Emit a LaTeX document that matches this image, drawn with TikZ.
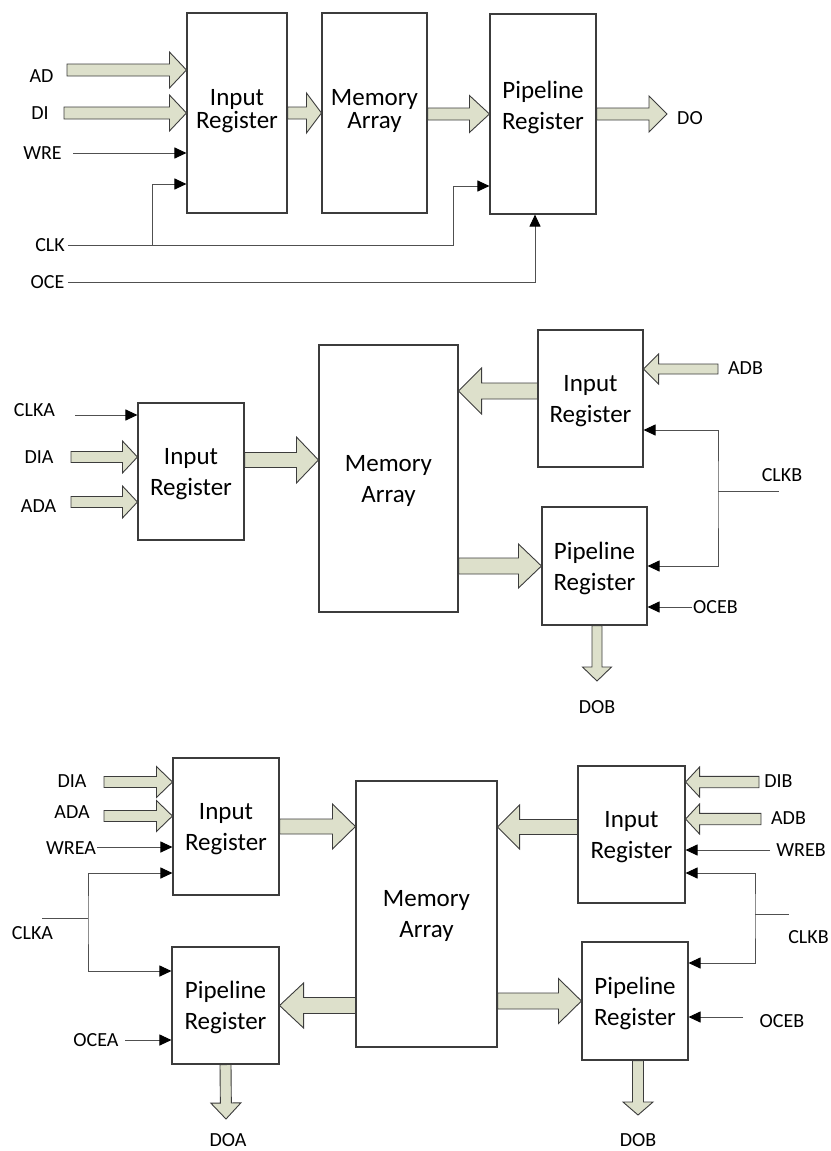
\documentclass[tikz,border=0pt]{standalone}
\usepackage{fontspec}
\setmainfont{Carlito}
\usepackage{tikz}
\usetikzlibrary{calc,arrows.meta}
\definecolor{busfill}{RGB}{221,224,203}
\definecolor{edge}{RGB}{60,60,60}
\definecolor{wirecol}{RGB}{80,80,80}
\newcommand*{\blockfont}{\fontsize{25}{31}\selectfont}
\newcommand*{\lblfont}{\fontsize{20}{21}\selectfont}
\newcommand*{\bus}[5]{%
  % #1: half width of the body, #2: half width of the head
  % #3: length of the head, #4: from, #5: to
  \path (#4) coordinate (bs) (#5) coordinate (be);
  \path ($(be)!#3!(bs)$) coordinate (bh);
  \draw[busline] ($(bs)!#1!90:(be)$) -- ($(bh)!#1!90:(be)$) -- ($(bh)!#2!90:(be)$) -- (be)
    -- ($(bh)!#2!-90:(be)$) -- ($(bh)!#1!-90:(be)$) -- ($(bs)!#1!-90:(be)$) -- cycle;
}
\tikzset{
  block/.style={draw=edge, line width=1.1pt, align=center, font=\blockfont, inner sep=0pt, text depth=0pt},
  busline/.style={draw=edge, fill=busfill, line width=0.9pt, line join=miter},
  wire/.style={draw=wirecol, line width=1pt},
  sig/.style={wire, ->},
  lbl/.style={font=\lblfont, inner sep=0pt},
  >={Triangle[length=12pt,width=11pt,color=black]}
}
\begin{document}
\begin{tikzpicture}[x=1pt, y=-1pt]
\useasboundingbox (0,0) rectangle (830,1151);
% single port
\node[block, minimum width=100, minimum height=200, text depth=8pt] (ir1) at (237,113) {Input\\[-8pt]Register};
\node[block, minimum width=105, minimum height=200, text depth=8pt] (ma1) at (374.5,113) {Memory\\[-8pt]Array};
\node[block, minimum width=106, minimum height=200, text depth=18pt] (pr1) at (543,114) {Pipeline\\Register};
\coordinate (ad) at (67,70);
\coordinate (di) at (64,113);
\coordinate (wre) at (73,153);
\coordinate (clk) at (68,245);
\coordinate (clkt1) at (152,184);
\coordinate (clkt2) at (453,186);
\coordinate (oce) at (68,282);
\coordinate (do) at (667,114);
\node[lbl] at (41.5,76) {AD};
\node[lbl] at (40,113) {DI};
\node[lbl] at (42.5,153) {WRE};
\node[lbl] at (50,245) {CLK};
\node[lbl] at (47.5,282) {OCE};
\node[lbl] at (690,118) {DO};
\bus{6pt}{18pt}{17pt}{ad}{ad -| ir1.west}
\bus{6pt}{18pt}{17pt}{di}{di -| ir1.west}
\bus{6pt}{20pt}{15pt}{ir1.east}{ma1.west}
\bus{6pt}{18.5pt}{20pt}{ma1.east |- pr1.west}{pr1.west}
\bus{6pt}{18pt}{18pt}{pr1.east}{do}
\draw[sig] (wre) -- (wre -| ir1.west);
\draw[sig] (clk) -| (clkt2) -- (clkt2 -| pr1.west);
\draw[sig] (clkt1 |- clk) |- (clkt1 -| ir1.west);
\draw[sig] (oce) -| ([xshift=-8pt]pr1.south);
% port A writes, port B reads
\node[block, minimum width=106, minimum height=137] (ira) at (191,471.5) {Input\\Register};
\node[block, minimum width=139, minimum height=267] (mam) at (388.5,478.5) {Memory\\Array};
\node[block, minimum width=105, minimum height=137] (irb) at (590.5,398.5) {Input\\Register};
\node[block, minimum width=105, minimum height=118] (prb) at (594.5,566) {Pipeline\\Register};
\coordinate (clka) at (75,415);
\coordinate (dia) at (71,457);
\coordinate (ada) at (71,502);
\coordinate (adb) at (718,369);
\coordinate (clkb) at (779,491);
\coordinate (clkbt) at (718,491);
\coordinate (oceb) at (692,607);
\coordinate (dob) at (597,681);
\node[lbl] at (34.5,410) {CLKA};
\node[lbl] at (39,457) {DIA};
\node[lbl] at (38.5,506) {ADA};
\node[lbl] at (745.5,368) {ADB};
\node[lbl] at (782,475) {CLKB};
\node[lbl] at (715.5,607) {OCEB};
\node[lbl] at (597,707) {DOB};
\draw[sig] (clka) -- (clka -| ira.west);
\bus{5.5pt}{16pt}{15pt}{dia}{dia -| ira.west}
\bus{5.5pt}{16pt}{15pt}{ada}{ada -| ira.west}
\bus{7.5pt}{23pt}{22pt}{[yshift=11.5pt]ira.east}{[yshift=11.5pt]ira.east -| mam.west}
\bus{8pt}{23pt}{23pt}{[yshift=7.5pt]irb.west}{[yshift=7.5pt]irb.west -| mam.east}
\bus{8pt}{22pt}{23pt}{prb.west -| mam.east}{prb.west}
\bus{5pt}{15pt}{15pt}{adb}{adb -| irb.east}
\draw[wire] (clkbt) -- (clkb);
\draw[sig, <->] ([yshift=-31.5pt]irb.east) -| (clkbt) |- (prb.east);
\draw[sig] (oceb) -- (oceb -| prb.east);
\bus{5pt}{14.5pt}{14pt}{[xshift=2.5pt]prb.south}{dob}
% both ports read and write
\node[block, minimum width=106, minimum height=137] (irc) at (226,826.5) {Input\\Register};
\node[block, minimum width=107, minimum height=117] (prc) at (225.5,1005.5) {Pipeline\\Register};
\node[block, minimum width=141, minimum height=266] (mac) at (426.5,914) {Memory\\Array};
\node[block, minimum width=107, minimum height=137] (ird) at (631.5,834.5) {Input\\Register};
\node[block, minimum width=106, minimum height=118] (prd) at (635,1001) {Pipeline\\Register};
\coordinate (dia2) at (104,782);
\coordinate (ada2) at (104,816);
\coordinate (wrea) at (97,847);
\coordinate (clka2) at (42,918);
\coordinate (clkat) at (88,918);
\coordinate (ocea) at (125,1040);
\coordinate (doa) at (226,1119);
\coordinate (dib) at (759,782);
\coordinate (adb2) at (761,819);
\coordinate (wreb) at (770,850);
\coordinate (clkb2) at (789,914);
\coordinate (clkbt2) at (755,914);
\coordinate (oceb2) at (743,1017);
\coordinate (dob2) at (638,1115);
\node[lbl] at (72,781) {DIA};
\node[lbl] at (72,812) {ADA};
\node[lbl] at (71,848) {WREA};
\node[lbl] at (32.5,933) {CLKA};
\node[lbl] at (96,1040) {OCEA};
\node[lbl] at (228,1140) {DOA};
\node[lbl] at (778.5,781) {DIB};
\node[lbl] at (788.5,818) {ADB};
\node[lbl] at (801,850) {WREB};
\node[lbl] at (808.5,937) {CLKB};
\node[lbl] at (782,1021) {OCEB};
\node[lbl] at (638,1140) {DOB};
\bus{5.5pt}{15.5pt}{16pt}{dia2}{dia2 -| irc.west}
\bus{5.5pt}{15.5pt}{16pt}{ada2}{ada2 -| irc.west}
\draw[sig] (wrea) -- (wrea -| irc.west);
\draw[wire] (clka2) -- (clkat);
\draw[sig, <->] ([yshift=-46.5pt]irc.west) -| (clkat) |- ([yshift=34.5pt]prc.west);
\draw[sig] (ocea) -- (ocea -| prc.west);
\bus{7.5pt}{22.5pt}{23pt}{irc.east}{irc.east -| mac.west}
\bus{8pt}{22.5pt}{24pt}{prc.east -| mac.west}{prc.east}
\bus{5.5pt}{15pt}{16pt}{prc.south}{doa}
\bus{5.7pt}{15pt}{14pt}{dib}{dib -| ird.east}
\bus{5.7pt}{15pt}{14pt}{adb2}{adb2 -| ird.east}
\draw[sig] (wreb) -- (wreb -| ird.east);
\draw[wire] (clkbt2) -- (clkb2);
\draw[sig, <->] ([yshift=-38.5pt]ird.east) -| (clkbt2) |- ([yshift=38pt]prd.east);
\draw[sig] (oceb2) -- (oceb2 -| prd.east);
\bus{7.5pt}{22pt}{22pt}{[yshift=7.5pt]ird.west}{[yshift=7.5pt]ird.west -| mac.east}
\bus{8pt}{22.5pt}{23pt}{mac.east |- prd.west}{prd.west}
\bus{5.5pt}{15pt}{13pt}{[xshift=3pt]prd.south}{dob2}
\end{tikzpicture}
\end{document}
